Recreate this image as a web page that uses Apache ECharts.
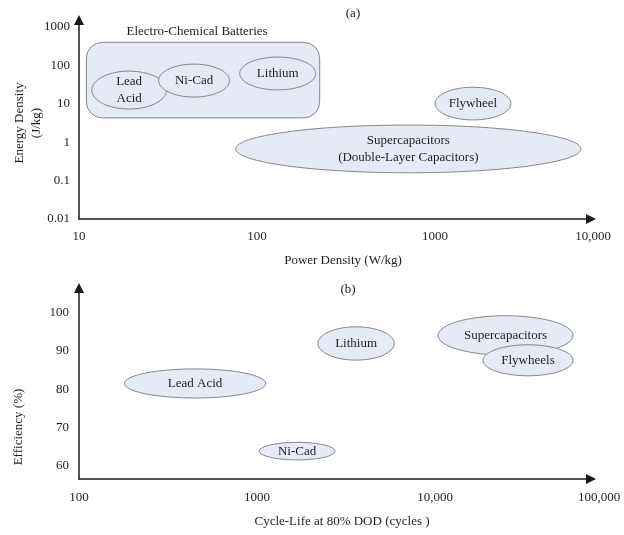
<!DOCTYPE html>
<html><head><meta charset="utf-8">
<script src="https://cdn.jsdelivr.net/npm/echarts@6/dist/echarts.min.js"></script>
<style>html,body{margin:0;padding:0;background:#fff}#c{width:624px;height:535px}</style>
</head><body><div id="c"></div>
<script>
// ---------- Panel (a): Energy density vs power density ----------
const groupNameA = 'Electro-Chemical Batteries';
const groupPowerA = [11, 225];
const groupEnergyA = [4.3, 400];
const namesA = ['Lead\nAcid', 'Ni-Cad', 'Lithium', 'Flywheel', 'Supercapacitors\n(Double-Layer Capacitors)'];
const powerMinA = [11.8, 28, 80, 1000, 76];
const powerMaxA = [31, 70, 214, 2670, 6600];
const energyMinA = [7.3, 15, 23, 3.8, 0.16];
const energyMaxA = [71, 108, 165, 27, 2.8];
const xTickLabelsA = ['10', '100', '1000', '10,000'];
const yTickLabelsA = ['0.01', '0.1', '1', '10', '100', '1000'];

// ---------- Panel (b): Efficiency vs cycle life ----------
const namesB = ['Lead Acid', 'Ni-Cad', 'Lithium', 'Supercapacitors', 'Flywheels'];
const cycleMinB = [180, 1030, 2200, 10400, 18600];
const cycleMaxB = [1120, 2740, 5900, 59600, 59600];
const effMinB = [77.7, 61.5, 87.6, 88.9, 83.5];
const effMaxB = [85.3, 66.1, 96.3, 99.2, 91.6];
const xTickLabelsB = ['100', '1000', '10,000', '100,000'];
const yTicksB = [60, 70, 80, 90, 100];

const FONT = 'Liberation Serif, Times New Roman, serif';
const TXT = '#1e1e1e';
const FILL = '#e6eaf4';
const STROKE = '#878787';

function rows(a, b, c, d) { return a.map((v, i) => [v, b[i], c[i], d[i]]); }

function box(api) {
  const p1 = api.coord([api.value(0), api.value(3)]);
  const p2 = api.coord([api.value(1), api.value(2)]);
  return { x: Math.min(p1[0], p2[0]), y: Math.min(p1[1], p2[1]),
           w: Math.abs(p2[0] - p1[0]), h: Math.abs(p2[1] - p1[1]) };
}
function ellipseRenderer(names) {
  return function (params, api) {
    const b = box(api);
    return {
      type: 'ellipse',
      shape: { cx: b.x + b.w / 2, cy: b.y + b.h / 2, rx: b.w / 2, ry: b.h / 2 },
      style: { fill: FILL, stroke: STROKE, lineWidth: 1 },
      textContent: { style: { text: names[params.dataIndex], fill: TXT, fontFamily: FONT, fontSize: 13, lineHeight: 17, align: 'center' } },
      textConfig: { position: 'inside' }
    };
  };
}
function groupRenderer(params, api) {
  const b = box(api);
  return {
    type: 'rect',
    shape: { x: b.x, y: b.y, width: b.w, height: b.h, r: 16 },
    style: { fill: FILL, stroke: STROKE, lineWidth: 1 },
    textContent: { style: { text: groupNameA, fill: TXT, fontFamily: FONT, fontSize: 13 } },
    textConfig: { position: 'top', distance: 4, offset: [-6, 0] }
  };
}

const axisLine = { show: true, lineStyle: { color: '#1a1a1a', width: 1.5 }, symbol: ['none', 'triangle'], symbolSize: [10, 10] };
const lbl = { fontFamily: FONT, fontSize: 13, color: TXT };
const logIdx = (v, off) => Math.round(Math.log10(v)) + off;
function lastLabel(labels, off) {
  return v => {
    const i = logIdx(v, off);
    return i === labels.length - 1 ? '{e|' + labels[i] + '}' : labels[i];
  };
}

const chart = echarts.init(document.getElementById('c'), null, { renderer: 'canvas' });
chart.setOption({
  animation: false,
  backgroundColor: '#fff',
  grid: [
    { left: 79, top: 20, width: 512, height: 199 },
    { left: 79, top: 288, width: 512, height: 191 }
  ],
  xAxis: [
    { type: 'log', gridIndex: 0, min: 10, max: 7522, axisLine,
      axisTick: { show: false }, splitLine: { show: false },
      axisLabel: Object.assign({ margin: 11, showMaxLabel: true, formatter: lastLabel(xTickLabelsA, -1),
        rich: { e: { fontFamily: FONT, fontSize: 13, color: TXT, padding: [0, 0, 0, 4] } } }, lbl) },
    { type: 'log', gridIndex: 1, min: 100, max: 75220, axisLine,
      axisTick: { show: false }, splitLine: { show: false },
      axisLabel: Object.assign({ margin: 12, showMaxLabel: true, formatter: lastLabel(xTickLabelsB, -2),
        rich: { e: { fontFamily: FONT, fontSize: 13, color: TXT, padding: [0, 0, 0, 16] } } }, lbl) }
  ],
  yAxis: [
    { type: 'log', gridIndex: 0, min: 0.01, max: 1521, axisLine,
      axisTick: { show: false }, splitLine: { show: false },
      axisLabel: Object.assign({ margin: 9, showMaxLabel: false, formatter: v => yTickLabelsA[logIdx(v, 2)] }, lbl) },
    { type: 'value', gridIndex: 1, min: 56.52, max: 106.45, axisLine,
      axisTick: { show: false }, splitLine: { show: false },
      axisLabel: Object.assign({ margin: 10, customValues: yTicksB }, lbl) }
  ],
  series: [
    { type: 'custom', xAxisIndex: 0, yAxisIndex: 0, silent: true, renderItem: groupRenderer,
      encode: { x: [0, 1], y: [2, 3] }, data: [[groupPowerA[0], groupPowerA[1], groupEnergyA[0], groupEnergyA[1]]] },
    { type: 'custom', xAxisIndex: 0, yAxisIndex: 0, silent: true, renderItem: ellipseRenderer(namesA),
      encode: { x: [0, 1], y: [2, 3] }, data: rows(powerMinA, powerMaxA, energyMinA, energyMaxA) },
    { type: 'custom', xAxisIndex: 1, yAxisIndex: 1, silent: true, renderItem: ellipseRenderer(namesB),
      encode: { x: [0, 1], y: [2, 3] }, data: rows(cycleMinB, cycleMaxB, effMinB, effMaxB) }
  ],
  graphic: [
    { type: 'text', x: 353, y: 14, style: { text: '(a)', font: '13px ' + FONT, fill: TXT, align: 'center', verticalAlign: 'middle' } },
    { type: 'text', x: 348, y: 290, style: { text: '(b)', font: '13px ' + FONT, fill: TXT, align: 'center', verticalAlign: 'middle' } },
    { type: 'text', x: 343, y: 261, style: { text: 'Power Density (W/kg)', font: '13px ' + FONT, fill: TXT, align: 'center', verticalAlign: 'middle' } },
    { type: 'text', x: 342, y: 522, style: { text: 'Cycle-Life at 80% DOD (cycles )', font: '13px ' + FONT, fill: TXT, align: 'center', verticalAlign: 'middle' } },
    { type: 'text', x: 20, y: 123, rotation: Math.PI / 2, style: { text: 'Energy Density', font: '13px ' + FONT, fill: TXT, align: 'center', verticalAlign: 'middle' } },
    { type: 'text', x: 37, y: 123, rotation: Math.PI / 2, style: { text: '(J/kg)', font: '13px ' + FONT, fill: TXT, align: 'center', verticalAlign: 'middle' } },
    { type: 'text', x: 19, y: 427, rotation: Math.PI / 2, style: { text: 'Efficiency (%)', font: '13px ' + FONT, fill: TXT, align: 'center', verticalAlign: 'middle' } }
  ]
});
</script>
</body></html>
